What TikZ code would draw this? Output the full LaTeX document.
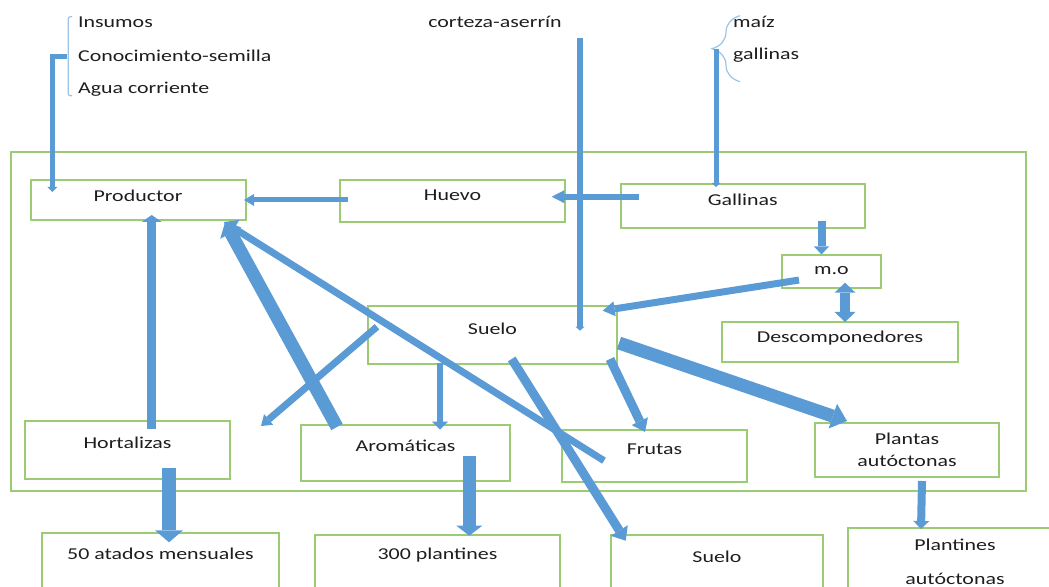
\documentclass[tikz,border=0pt]{standalone}
\usepackage{fontspec}
\setmainfont{Carlito}[FakeStretch=1.32]
\usetikzlibrary{arrows.meta,calc,decorations.pathreplacing}
\definecolor{verde}{RGB}{155,204,115}
\definecolor{azul}{RGB}{91,155,213}
\definecolor{celeste}{RGB}{157,195,230}
\definecolor{tinta}{RGB}{30,30,30}

\begin{document}
\begin{tikzpicture}[x=0.5pt,y=-0.5pt,
    font=\fontsize{8.3}{10}\selectfont,
    caja/.style={draw=verde, line width=1pt, inner sep=0pt},
    rotulo/.style={anchor=center, align=center, inner sep=0pt, text=tinta},
    texto/.style={anchor=west, inner sep=0pt, text=tinta},
    flecha/.style n args={3}{draw=azul, line width=#1,
      -{Triangle[width=#2, length=#3, line width=0pt]}},
    doble/.style n args={3}{draw=azul, line width=#1,
      {Triangle[width=#2, length=#3, line width=0pt]}-{Triangle[width=#2, length=#3, line width=0pt]}},
    corchete/.style={draw=celeste, line width=0.6pt}]
  \useasboundingbox (0,0) rectangle (1049,587);

  % entradas
  \node[texto] (insumos) at (77.7,22.3) {Insumos};
  \node[texto] (conocimiento) at (77.7,55.7) {Conocimiento-semilla};
  \node[texto] (agua) at (77.7,89) {Agua corriente};
  \node[text=tinta, inner sep=0pt] (corteza) at (495,22.3) {corteza-aserrín};
  \node[texto] (maiz) at (732.7,22.3) {maíz};
  \node[texto] (gallinasin) at (732.7,55) {gallinas};
  \draw[corchete, rounded corners=1pt] (72,16.7) -- (68.3,16.7) -- (68.3,95.7) -- (72,95.7);
  \draw[corchete, decorate, decoration={brace, amplitude=14pt}] (740,81.7) -- (740,15.7);
  \coordinate (insumostip) at (67,56.7);
  \coordinate (aserrin) at (580,38.3);
  \coordinate (maiztip) at (716,49);

  % finca
  \draw[caja] (11,152) rectangle (1026,491);
  \node[caja, minimum width=107.5pt, minimum height=20pt, label={[rotulo,yshift=-8.35pt]north:Productor}] (productor) at (138,200) {};
  \node[caja, minimum width=112.5pt, minimum height=21pt, label={[rotulo,yshift=-8.35pt]north:Huevo}] (huevo) at (452.5,201) {};
  \node[caja, minimum width=122.25pt, minimum height=22.25pt, label={[rotulo,yshift=-8.5pt]north:Gallinas}] (gallinas) at (742.75,206.25) {};
  \node[caja, minimum width=49.5pt, minimum height=16.25pt, label={[rotulo,yshift=-8.25pt]north:m.o}] (mo) at (831.5,271.75) {};
  \node[caja, minimum width=118pt, minimum height=19.75pt, label={[rotulo,yshift=-8.5pt]north:Descomponedores}] (descomp) at (840,342.25) {};
  \node[caja, minimum width=124.5pt, minimum height=28.75pt, label={[rotulo,yshift=-11.75pt]north:Suelo}] (suelo) at (492.5,335.25) {};
  \node[caja, minimum width=102.5pt, minimum height=28.75pt, label={[rotulo,yshift=-10.9pt]north:Hortalizas}] (hortalizas) at (127.5,450.25) {};
  \node[caja, minimum width=104.5pt, minimum height=27.75pt, label={[rotulo,yshift=-10.6pt]north:Aromáticas}] (aromaticas) at (405.5,453.25) {};
  \node[caja, minimum width=92.5pt, minimum height=26pt, label={[rotulo,yshift=-10pt]north:Frutas}] (frutas) at (654.5,456) {};
  \node[caja, minimum width=92pt, minimum height=27pt, label={[rotulo,yshift=-13.9pt,font=\fontsize{8.3}{10.85}\selectfont]north:{Plantas\\autóctonas}}] (plantas) at (907,450) {};

  % productos
  \node[caja, minimum width=118.8pt, minimum height=33.65pt, label={[rotulo,yshift=-11.15pt]north:50 atados mensuales}] (atados) at (160.5,566.35) {};
  \node[caja, minimum width=122.5pt, minimum height=32.5pt, label={[rotulo,yshift=-10.5pt]north:300 plantines}] (plantines) at (437.5,567.5) {};
  \node[caja, minimum width=106pt, minimum height=32.5pt, label={[rotulo,yshift=-11.5pt]north:Suelo}] (suelofinal) at (717,567.5) {};
  \node[caja, minimum width=107pt, minimum height=36pt, label={[rotulo,yshift=-17.5pt,font=\fontsize{8.3}{17}\selectfont]north:{Plantines\\autóctonas}}] (nativas) at (955,564) {};

  % flujos
  \draw[flecha={2.5pt}{5pt}{2.5pt}] (insumostip) -| ($(productor.north west)+(22.8,13)$);
  \draw[flecha={3pt}{4.5pt}{2pt}] (aserrin) -- ($(aserrin |- suelo.north)+(0,25.2)$);
  \draw[flecha={2.5pt}{4.5pt}{2pt}] (maiztip) -- ($(maiztip |- gallinas.north)+(0,4)$);
  \draw[flecha={2.5pt}{6pt}{5pt}] ($(huevo.west)+(9,-1)$) -- ($(productor.east)+(-2.5,0)$);
  \draw[flecha={3pt}{6.5pt}{6.3pt}] ($(gallinas.west)+(19.5,-9.55)$) -- ($(huevo.east)+(-14.3,-4.3)$);
  \draw[flecha={4pt}{7.5pt}{4pt}] ($(mo.north)+(-10,-33.5)$) -- ($(mo.north)+(-10,0)$);
  \draw[doble={5pt}{10.5pt}{5pt}] ($(mo.south)+(13.5,-6.3)$) -- ($(descomp.north)+(5,0.5)$);
  \draw[flecha={3.5pt}{7.5pt}{6pt}] ($(mo.west)+(18,8.3)$) -- ($(suelo.north east)+(-15.3,5.2)$);
  \draw[flecha={4.5pt}{10pt}{3.5pt}] ($(hortalizas.north)+(24.2,8.5)$) -- ($(productor.south)+(13.7,-6)$);
  \draw[flecha={6.5pt}{12pt}{6pt}] ($(aromaticas.north west)+(37,2.5)$) -- ($(productor.south east)+(-21.5,1.5)$);
  \draw[flecha={3.5pt}{10pt}{6pt}] ($(frutas.west)+(43,4.7)$) -- ($(productor.south east)+(-22.5,1)$);
  \draw[flecha={3.5pt}{7pt}{5pt}] ($(suelo.west)+(10,-8.5)$) -- ($(hortalizas.east)+(30,-24.25)$);
  \draw[flecha={3pt}{8pt}{4pt}] ($(suelo.south)+(-52.5,-2.3)$) -- ($(aromaticas.north)+(34.5,5.2)$);
  \draw[flecha={4.5pt}{10pt}{6pt}] ($(suelo.south)+(19.2,-6)$) -- ($(suelofinal.north west)+(15.7,6.7)$);
  \draw[flecha={4.5pt}{9pt}{6pt}] ($(suelo.south east)+(-8,-6)$) -- ($(frutas.north)+(-9.5,3)$);
  \draw[flecha={6.5pt}{13pt}{7.5pt}] ($(suelo.east)+(1,7.75)$) -- ($(plantas.north west)+(33,-1)$);
  \draw[flecha={7pt}{14pt}{6pt}] ($(hortalizas.south)+(41.5,-11.7)$) -- ($(atados.north)+(8.5,10.6)$);
  \draw[flecha={6.5pt}{13pt}{5pt}] ($(aromaticas.south)+(63.8,-26)$) -- ($(plantines.north)+(31.8,1.7)$);
  \draw[flecha={4pt}{8pt}{4pt}] ($(plantas.south)+(15,3)$) -- ($(nativas.north west)+(74,2)$);
\end{tikzpicture}
\end{document}
